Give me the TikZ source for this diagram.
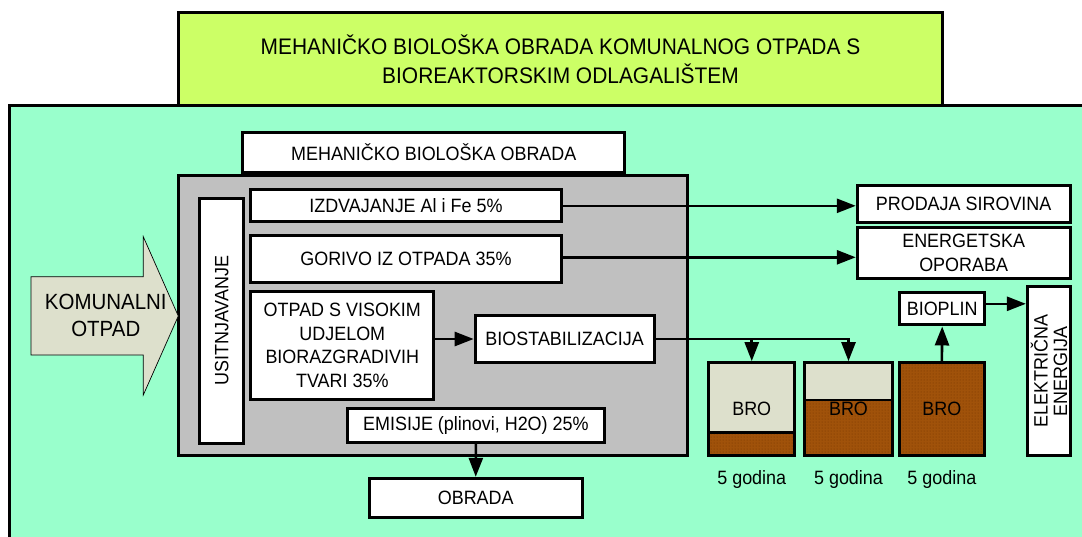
\documentclass[tikz,border=0pt]{standalone}
\usepackage{fontspec}
\setmainfont{Liberation Sans}[FakeStretch=0.93]
\usetikzlibrary{calc,arrows.meta,patterns}

\definecolor{titlefill}{RGB}{204,255,102}
\definecolor{plantfill}{RGB}{153,255,204}
\definecolor{mbofill}{RGB}{192,192,192}
\definecolor{wastefill}{RGB}{221,224,204}
\definecolor{brofill}{RGB}{160,82,10}
\definecolor{brodots}{RGB}{115,52,0}

\begin{document}
\begin{tikzpicture}[x=1pt,y=-1pt,
	box/.style={draw, line width=3pt, fill=white, inner sep=2pt, align=center,
		font=\fontsize{19.3}{23.5}\selectfont},
	flow/.style={line width=2.6pt, -{Triangle[length=19pt,width=14pt]}},
	bro/.style={box, fill=wastefill, minimum width=#1, minimum height=93.3pt},
	brolevel/.style={path picture={
		\fill[brofill] (path picture bounding box.south west) rectangle
			([yshift=#1]path picture bounding box.south east);
		\fill[pattern=dots, pattern color=brodots] (path picture bounding box.south west) rectangle
			([yshift=#1]path picture bounding box.south east);
		\draw[line width=2.6pt] ([yshift=#1]path picture bounding box.south west) --
			([yshift=#1]path picture bounding box.south east);}},
	years/.style={inner sep=0pt, font=\fontsize{19.3}{22}\selectfont}]

	% Page
	\useasboundingbox (0,0) rectangle (1082,536);
	\clip (0,0) rectangle (1082,536);

	% Plant area and title
	\draw[line width=3pt, fill=plantfill] (9.3,105.7) rectangle (1095,550);
	\node[box, fill=titlefill, minimum width=764.3pt, minimum height=92.3pt,
		font=\fontsize{22.5}{29}\selectfont] (title) at (560.5,58.9)
		{MEHANIČKO BIOLOŠKA OBRADA KOMUNALNOG OTPADA S\\BIOREAKTORSKIM ODLAGALIŠTEM};

	% Mechanical biological treatment
	\node[box, minimum width=381.9pt, minimum height=40pt] (mbo) at (433.75,152.3) {MEHANIČKO BIOLOŠKA OBRADA};
	\draw[line width=3pt, fill=mbofill] (178.4,175) rectangle (687.7,455);

	\node[box, rotate=90, minimum width=245pt, minimum height=44.1pt] (usit) at (221.7,320.8) {USITNJAVANJE};
	\node[box, minimum width=311.1pt, minimum height=31.7pt] (izdv) at (405.9,205.8) {IZDVAJANJE Al i Fe 5\%};
	\node[box, minimum width=311.1pt, minimum height=46.7pt] (gorivo) at (405.9,259.3) {GORIVO IZ OTPADA 35\%};
	\node[box, minimum width=183.2pt, minimum height=107.6pt] (otpad) at (342.3,345.5)
		{OTPAD S VISOKIM\\UDJELOM\\BIORAZGRADIVIH\\TVARI 35\%};
	\node[box, minimum width=178.8pt, minimum height=46.6pt] (biostab) at (564.6,339) {BIOSTABILIZACIJA};
	\node[box, minimum width=256.2pt, minimum height=34pt] (emisije) at (475.9,425.3) {EMISIJE (plinovi, H2O) 25\%};
	\node[box, minimum width=212.5pt, minimum height=39pt] (obrada) at (475.75,497.8) {OBRADA};

	% Incoming waste
	\draw[line width=0.7pt, fill=wastefill] (31,276.7) -- (143.3,276.7) -- (143.3,236.7) -- (178.3,316)
		-- (143.3,395) -- (143.3,355) -- (31,355) -- cycle;
	\node[align=center, font=\fontsize{22}{27}\selectfont] (komunalni) at (105.8,315) {KOMUNALNI\\OTPAD};

	% Products
	\node[box, minimum width=212.7pt, minimum height=37.3pt] (prodaja) at (963.65,203.7) {PRODAJA SIROVINA};
	\node[box, minimum width=212.7pt, minimum height=50.6pt, font=\fontsize{19.3}{24}\selectfont] (energ) at (963.65,253)
		{ENERGETSKA\\OPORABA};

	% Bioreactor cells
	\node[bro=86.1pt, brolevel=23.3pt] (bro1) at (751.75,409.3) {BRO};
	\node[bro=88.2pt, brolevel=56pt] (bro2) at (848.5,409.3) {BRO};
	\node[bro=84.7pt, brolevel=100pt] (bro3) at (941.85,409.3) {BRO};

	\node[years] (god1) at ($(bro1.south)+(0,22.3)$) {5 godina};
	\node[years] (god2) at ($(bro2.south)+(0,22.3)$) {5 godina};
	\node[years] (god3) at ($(bro3.south)+(0,22.3)$) {5 godina};

	\node[box, minimum width=85.4pt, minimum height=32.3pt] (bioplin) at (942.2,308.8) {BIOPLIN};
	\node[box, rotate=90, minimum width=169.3pt, minimum height=43.2pt, font=\fontsize{19.3}{19.5}\selectfont]
		(elektr) at (1049,371.3) {ELEKTRIČNA\\ENERGIJA};

	% Flows
	\draw[flow] (izdv.east) -- (izdv.east -| prodaja.west);
	\draw[flow] ([yshift=2pt]gorivo.east) -- ([yshift=2pt]gorivo.east -| energ.west);
	\draw[flow] (otpad.east |- biostab.west) -- (biostab.west);
	\draw[flow] (emisije.south) -- (obrada.north);
	\draw[flow] (biostab.east) -| (bro2.north);
	\draw[flow] (biostab.east -| bro1.north) -- (bro1.north);
	\draw[flow] (bro3.north) -- (bioplin.south);
	\draw[flow] ([yshift=5pt]bioplin.east) -- ([yshift=5pt]bioplin.east -| elektr.north);
\end{tikzpicture}
\end{document}
